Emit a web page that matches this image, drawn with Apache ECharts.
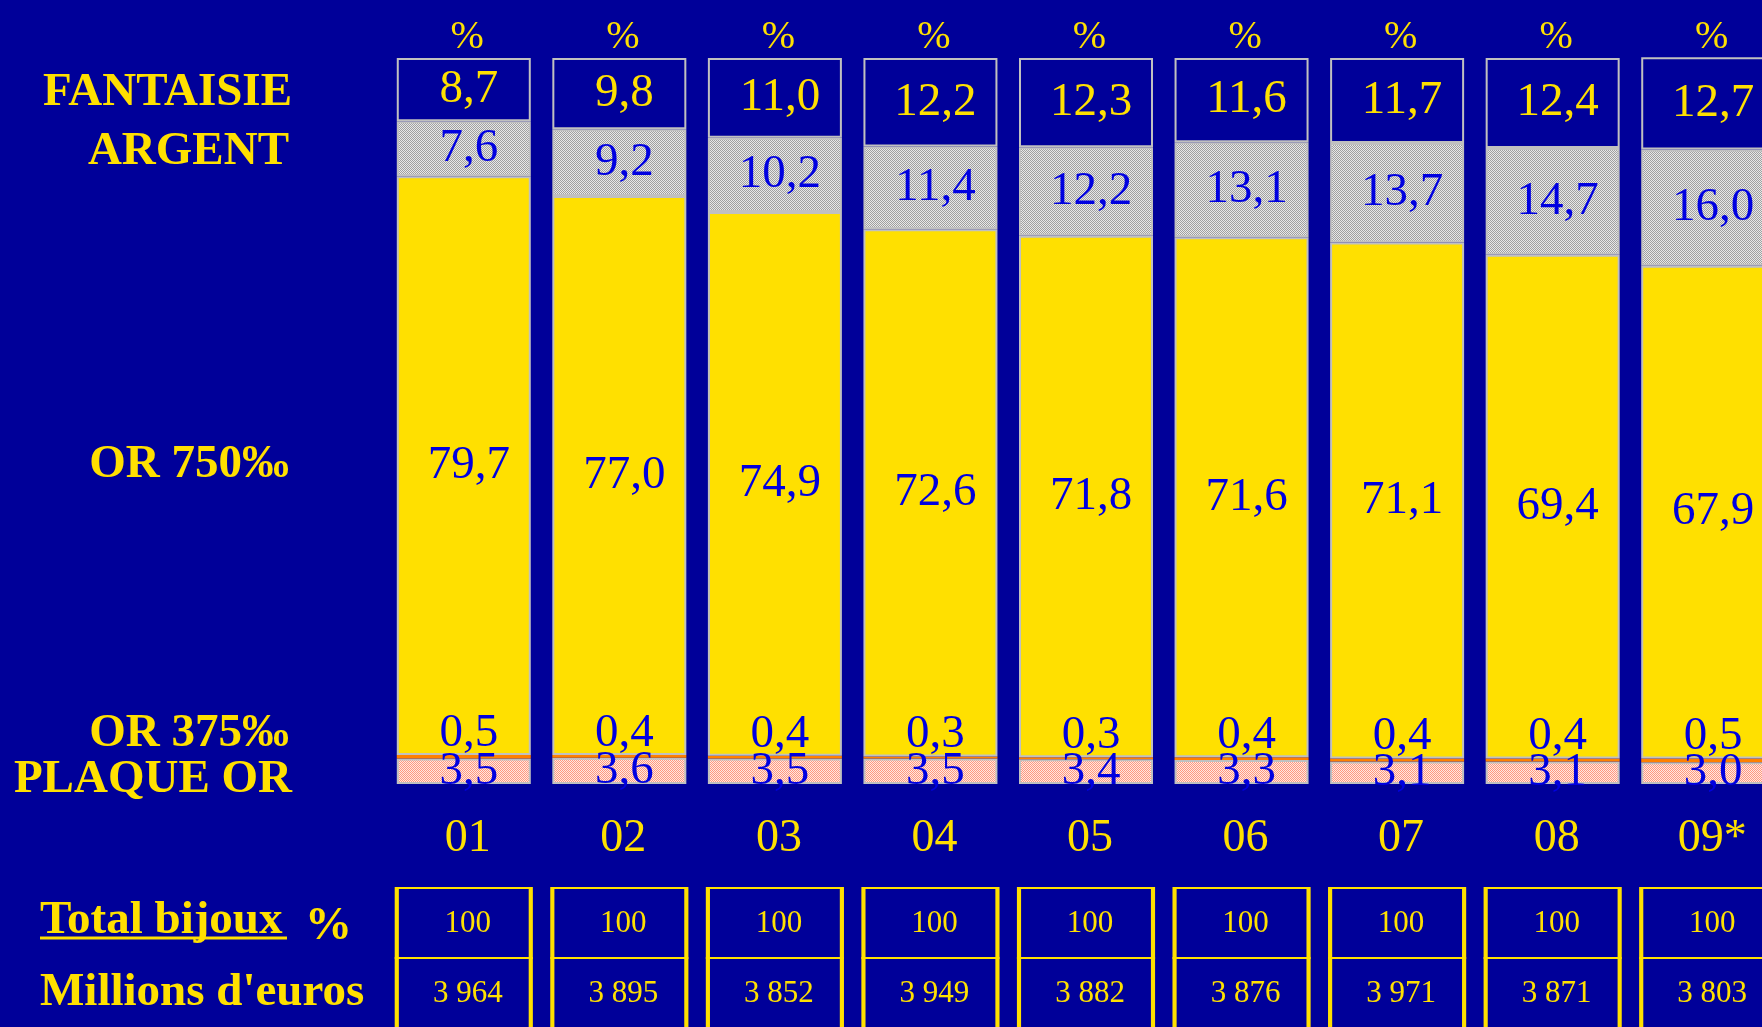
<!DOCTYPE html>
<html>
<head>
<meta charset="utf-8">
<script src="https://cdn.jsdelivr.net/npm/echarts@6/dist/echarts.min.js"></script>
<style>
  html, body { margin: 0; padding: 0; background: #000099; }
  #chart { width: 1762px; height: 1027px; }
</style>
</head>
<body>
<div id="chart"></div>
<script>
// 数据
const years = ['01', '02', '03', '04', '05', '06', '07', '08', '09*']
const plaqueOr = [3.5, 3.6, 3.5, 3.5, 3.4, 3.3, 3.1, 3.1, 3.0]
const or375 = [0.5, 0.4, 0.4, 0.3, 0.3, 0.4, 0.4, 0.4, 0.5]
const or750 = [79.7, 77.0, 74.9, 72.6, 71.8, 71.6, 71.1, 69.4, 67.9]
const argent = [7.6, 9.2, 10.2, 11.4, 12.2, 13.1, 13.7, 14.7, 16.0]
const fantaisie = [8.7, 9.8, 11.0, 12.2, 12.3, 11.6, 11.7, 12.4, 12.7]
const totalPct = [100, 100, 100, 100, 100, 100, 100, 100, 100]
const totalMillions = ['3 964', '3 895', '3 852', '3 949', '3 882', '3 876', '3 971', '3 871', '3 803']
const rowNames = ['Total bijoux %', "Millions d'euros"]

const NAVY = '#000099'
const YELLOW = '#FFE000'
const BLUE = '#0000E0'
const GREY = '#C0C0C0'
const SERIF = "'Liberation Serif', 'Times New Roman', serif"

// 点状纹理
const makePattern = (a, b) => {
  const c = document.createElement('canvas')
  c.width = 2
  c.height = 2
  const ctx = c.getContext('2d')
  ctx.fillStyle = a
  ctx.fillRect(0, 0, 2, 2)
  ctx.fillStyle = b
  ctx.fillRect(0, 0, 1, 1)
  ctx.fillRect(1, 1, 1, 1)
  return { image: c, repeat: 'repeat' }
}

const fmt = (p) => p.value.toFixed(1).replace('.', ',')

const valueLabel = (color, position, distance) => ({
  show: true,
  position: position,
  distance: distance,
  offset: [5, 0],
  color: color,
  fontFamily: SERIF,
  fontSize: 47,
  formatter: fmt
})

const segment = (name, data, color, label, borderWidth) => ({
  name: name,
  type: 'bar',
  stack: 'total',
  xAxisIndex: 0,
  yAxisIndex: 0,
  barWidth: 134,
  data: data,
  itemStyle: { color: color, borderColor: GREY, borderWidth: borderWidth },
  label: label,
  silent: true
})

const cell = (data, rowIndex) => ({
  type: 'scatter',
  xAxisIndex: 2,
  yAxisIndex: 1,
  symbol: 'rect',
  symbolSize: [134, 70],
  data: data.map((v, i) => [i, rowIndex, v]),
  itemStyle: { color: NAVY, borderColor: YELLOW, borderWidth: 3, opacity: 1 },
  label: {
    show: true,
    position: 'inside',
    offset: [4, 1],
    color: YELLOW,
    fontFamily: SERIF,
    fontSize: 31,
    formatter: (p) => String(p.value[2])
  },
  silent: true
})

const leftLabel = (text, x, y, align) => ({
  type: 'text',
  style: {
    text: text,
    x: x,
    y: y,
    align: align,
    verticalAlign: 'middle',
    fill: YELLOW,
    font: 'bold 47px ' + SERIF
  },
  silent: true
})

const getChartOption = () => ({
  backgroundColor: NAVY,
  animation: false,
  grid: [
    { left: 386, width: 1400, top: 58, height: 726, outerBoundsMode: 'none' },
    { left: 386, width: 1400, top: 888, height: 140, outerBoundsMode: 'none' }
  ],
  xAxis: [
    {
      type: 'category',
      gridIndex: 0,
      data: years,
      axisLine: { show: false },
      axisTick: { show: false },
      axisLabel: { color: YELLOW, fontFamily: SERIF, fontSize: 46, margin: 32, padding: [0, 0, 0, 8] }
    },
    {
      type: 'category',
      gridIndex: 0,
      position: 'top',
      data: years,
      axisLine: { show: false },
      axisTick: { show: false },
      axisLabel: { color: YELLOW, fontFamily: SERIF, fontSize: 40, margin: 1, padding: [0, 0, 0, 7], formatter: () => '%' }
    },
    {
      type: 'category',
      gridIndex: 1,
      data: years,
      show: false
    }
  ],
  yAxis: [
    { type: 'value', gridIndex: 0, min: 0, max: 100, show: false },
    { type: 'category', gridIndex: 1, data: rowNames, inverse: true, show: false }
  ],
  series: [
    segment('PLAQUE OR', plaqueOr, makePattern('#FFE8E0', '#FF9880'), valueLabel(BLUE, 'inside', 0), 2),
    segment('OR 375‰', or375, '#FF8000', valueLabel(BLUE, 'top', -2), 0),
    segment('OR 750‰', or750, YELLOW, valueLabel(BLUE, 'inside', 0), 2),
    segment('ARGENT', argent, makePattern('#E8E8E8', '#A0A0A0'), valueLabel(BLUE, 'inside', 0), 2),
    segment('FANTAISIE', fantaisie, NAVY, valueLabel(YELLOW, 'inside', 0), 2),
    cell(totalPct, 0),
    cell(totalMillions, 1)
  ],
  graphic: [
    leftLabel('FANTAISIE', 292, 93, 'right'),
    leftLabel('ARGENT', 289, 152, 'right'),
    leftLabel('OR 750‰', 289, 465, 'right'),
    leftLabel('OR 375‰', 289, 734, 'right'),
    leftLabel('PLAQUE OR', 292, 780, 'right'),
    leftLabel('Total bijoux', 40, 921, 'left'),
    leftLabel('%', 305, 927, 'left'),
    leftLabel("Millions d'euros", 40, 993, 'left'),
    {
      type: 'line',
      shape: { x1: 40, y1: 938, x2: 287, y2: 938 },
      style: { stroke: YELLOW, lineWidth: 3 },
      silent: true
    }
  ]
})

const chartInstance = echarts.init(document.getElementById('chart'))
chartInstance.setOption(getChartOption())
window.addEventListener('resize', () => chartInstance.resize())
</script>
</body>
</html>
